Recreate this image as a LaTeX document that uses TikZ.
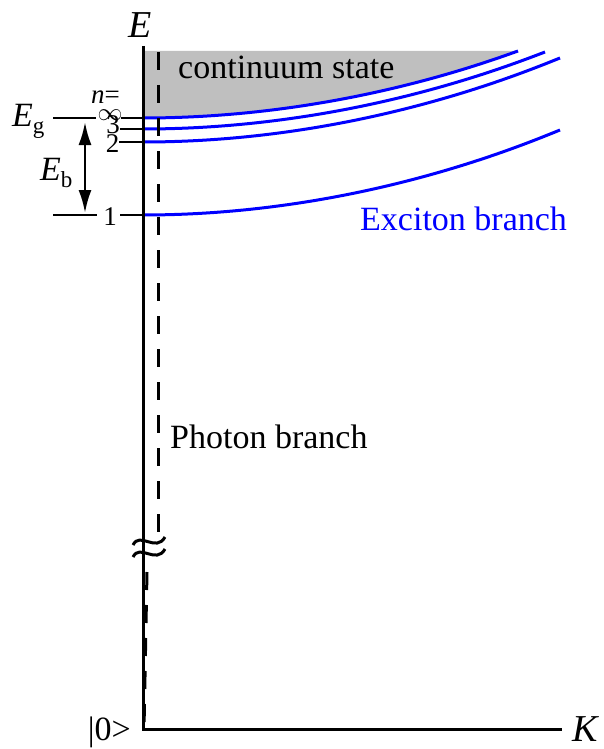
\documentclass[tikz,border=0pt]{standalone}
\usepackage{fontspec}
\setmainfont{Liberation Serif}
\usetikzlibrary{arrows.meta,positioning}

\newcommand{\sub}[1]{\raisebox{-7pt}{\fontsize{23}{24}\selectfont #1}}

\begin{document}
\begin{tikzpicture}[
  x=1pt, y=-1pt,
  axis/.style={line width=3pt},
  tick/.style={line width=1.4pt},
  branch/.style={blue, line width=3pt},
  photon/.style={line width=3pt, dash pattern=on 18pt off 15pt},
  big/.style={font=\fontsize{38}{42}\selectfont, inner sep=0pt},
  lbl/.style={font=\fontsize{34}{40}\selectfont, inner sep=0pt},
  num/.style={font=\fontsize{27}{30}\selectfont, inner sep=0pt},
  >={Latex[length=23pt,width=13pt]}
]
  \useasboundingbox (0,0) rectangle (603,749);

  % Points on the axes
  \coordinate (O) at (143,729);
  \coordinate (Etop) at (143,46);
  \coordinate (Kend) at (562,729);
  \coordinate (Linf) at (143,118);
  \coordinate (L3) at (143,129);
  \coordinate (L2) at (143,142);
  \coordinate (L1) at (143,215);

  % Continuum state
  \fill[black!25] (143,51) -- (Linf) parabola (518,51) -- cycle;
  \node[lbl, anchor=base west] (cont) at (178,79) {continuum state};

  % Exciton branches
  \draw[branch] (Linf) parabola (518,51);
  \draw[branch] (L3) parabola (545,52);
  \draw[branch] (L2) parabola (560,58);
  \draw[branch] (L1) parabola (560,130);
  \node[lbl, blue, anchor=base west] (exc) at (360,230) {Exciton branch};

  % Photon branch
  \draw[photon] (158,52) -- (158,537);
  \draw[photon] (147,572) -- (144,729);
  \node[lbl, anchor=base west] (pho) at (170,448) {Photon branch};

  % Axes
  \draw[axis] (Etop) -- (O) -- (Kend);
  \node[big, anchor=base] (E) at (140,38) {\itshape E};
  \node[big, anchor=base] (K) at (585,741) {\itshape K};
  \node[lbl, anchor=base east] (vac) at (131,740) {|0>};

  % Axis break
  \draw[line width=3pt] (133,545) .. controls (140,531) and (156,553) .. (165,537);
  \draw[line width=3pt] (133,557) .. controls (140,543) and (156,565) .. (165,549);

  % Levels
  \node[num, anchor=base west] (n) at (91,103) {\itshape n\upshape=};
  \node[num, font=\fontsize{23}{26}\selectfont] (ninf) at (110,115) {$\infty$};
  \node[num, anchor=base] (n3) at (113,134) {3};
  \node[num, anchor=base] (n2) at (112.5,153) {2};
  \node[num, anchor=base] (n1) at (110,225) {1};
  \coordinate (Tinf) at (121,118);
  \coordinate (T3) at (120,129);
  \coordinate (T2) at (119,142);
  \coordinate (T1) at (120,215);
  \draw[tick] (Tinf) -- (Linf);
  \draw[tick] (T3) -- (L3);
  \draw[tick] (T2) -- (L2);
  \draw[tick] (T1) -- (L1);

  % Gap and binding energy
  \coordinate (Ga) at (53,118);
  \coordinate (Gb) at (96,118);
  \coordinate (Ba) at (53,215);
  \coordinate (Bb) at (97,215);
  \draw[tick] (Ga) -- (Gb);
  \draw[tick] (Ba) -- (Bb);
  \coordinate (Atop) at (85,122);
  \coordinate (Abot) at (85,213);
  \draw[<->, line width=2.5pt] (Atop) -- (Abot);
  \node[lbl, anchor=base west] (Eg) at (12,127) {\itshape E\upshape\sub{g}};
  \node[lbl, anchor=base west] (Eb) at (40,180) {\itshape E\upshape\sub{b}};

\end{tikzpicture}
\end{document}
